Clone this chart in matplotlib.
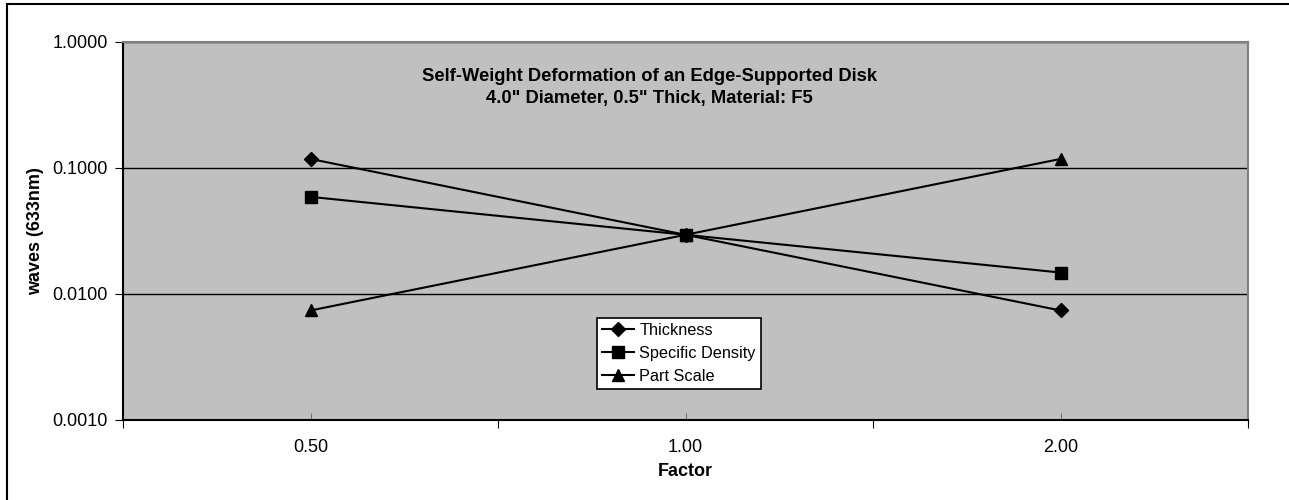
import matplotlib.pyplot as plt
from matplotlib.patches import Rectangle

plt.rcParams['font.family'] = ['Liberation Sans', 'DejaVu Sans']

# ---- data ----
factors = ['0.50', '1.00', '2.00']
thickness = [0.118, 0.0295, 0.0074]
specific_density = [0.059, 0.0295, 0.0148]
part_scale = [0.0074, 0.0295, 0.118]

fig = plt.figure(figsize=(12.89, 5.0), dpi=100)
ax = fig.add_axes([123 / 1289, 80 / 500, 1125 / 1289, 378 / 500])
ax.set_facecolor('#C0C0C0')

x = range(len(factors))
ax.plot(x, thickness, color='black', lw=1.5, marker='D', ms=7, label='Thickness')
ax.plot(x, specific_density, color='black', lw=1.5, marker='s', ms=8, label='Specific Density')
ax.plot(x, part_scale, color='black', lw=1.5, marker='^', ms=9, label='Part Scale')

ax.set_yscale('log')
ax.set_ylim(0.001, 1.0)
ax.set_xlim(-0.5, 2.5)
ax.set_yticks([0.001, 0.01, 0.1, 1.0])
ax.set_yticklabels(['0.0010', '0.0100', '0.1000', '1.0000'])
ax.yaxis.set_minor_locator(plt.NullLocator())
ax.tick_params(axis='y', direction='out', length=6, labelsize=13, pad=5)

# category boundaries: outer ticks, category centres: inner ticks with labels
ax.set_xticks([-0.5, 0.5, 1.5, 2.5])
ax.set_xticklabels([])
ax.tick_params(axis='x', which='major', direction='out', length=6)
ax.set_xticks(list(x), factors, minor=True)
ax.tick_params(axis='x', which='minor', direction='in', length=5, color='#606060',
               labelsize=13, pad=14)

ax.grid(axis='y', which='major', color='black', lw=1)
for s in ['top', 'right']:
    ax.spines[s].set_color('#808080')
    ax.spines[s].set_linewidth(1.5)
for s in ['left', 'bottom']:
    ax.spines[s].set_color('black')
    ax.spines[s].set_linewidth(1.5)

ax.set_ylabel('waves (633nm)', fontsize=13, fontweight='bold', labelpad=6)
ax.set_xlabel('Factor', fontsize=13, fontweight='bold', labelpad=5)

ax.text(0.468, 0.93, 'Self-Weight Deformation of an Edge-Supported Disk\n'
        '4.0" Diameter, 0.5" Thick, Material: F5',
        transform=ax.transAxes, ha='center', va='top', fontsize=13.2,
        fontweight='bold', linespacing=1.35)

leg = ax.legend(loc='upper left', bbox_to_anchor=((597 - 123) / 1125, (420 - 318) / 378),
                frameon=True, fancybox=False, framealpha=1, edgecolor='black',
                fontsize=11.7, handlelength=2.0, borderpad=0.3, labelspacing=0.5,
                handletextpad=0.3, borderaxespad=0)
leg.get_frame().set_linewidth(1.2)

fig.patches.append(Rectangle((7 / 1289, -0.1), 1.2, (500 - 4) / 500 + 0.1,
                             transform=fig.transFigure, fill=False,
                             edgecolor='black', lw=1.5))

fig.savefig('out.png', dpi=100)
